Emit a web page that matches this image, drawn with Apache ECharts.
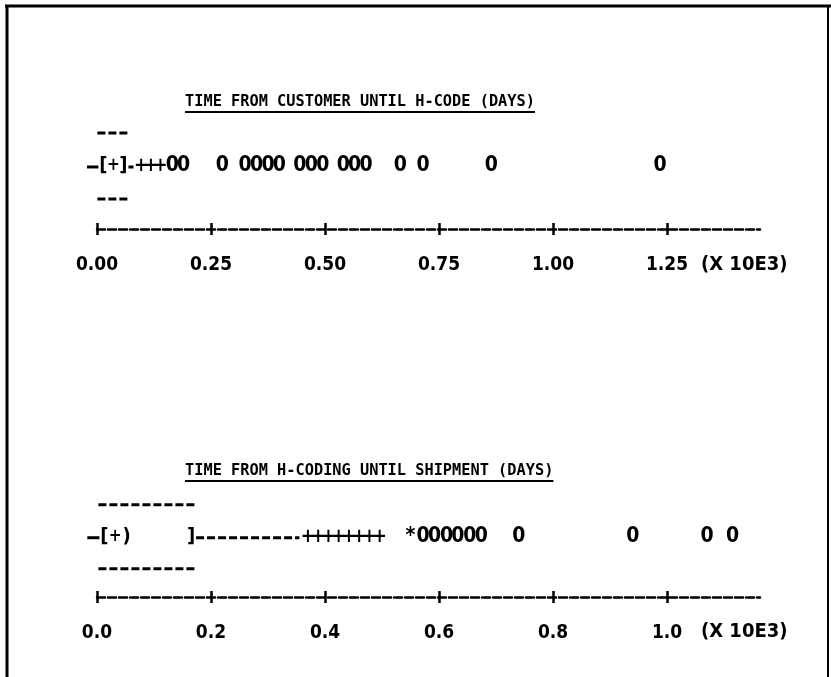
<!DOCTYPE html>
<html><head><meta charset="utf-8">
<script src="https://cdn.jsdelivr.net/npm/echarts@6/dist/echarts.min.js"></script>
<style>html,body{margin:0;padding:0;background:#fff}#c{width:831px;height:677px}</style>
</head><body><div id="c"></div>
<script>
// ---------------- data ----------------
const titles = ['TIME FROM CUSTOMER UNTIL H-CODE (DAYS)', 'TIME FROM H-CODING UNTIL SHIPMENT (DAYS)'];
const unitLabel = '(X 10E3)';

// plot 1 (days)
const topTicks = [0, 250, 500, 750, 1000, 1250];
const topTickLabels = ['0.00', '0.25', '0.50', '0.75', '1.00', '1.25'];
const topAxisMax = 1454;
const topBox = [-22, 14, 36, 58, 80];    // whisker low, Q1, median, Q3, whisker high
const topNotch = [];
const topPlus = [97, 118, 139];
const topStar = [];
const topOutliers = [165, 190, 275, 325, 350, 375, 400, 445, 470, 495, 540, 565, 590, 665, 715, 865, 1235];

// plot 2 (days)
const botTicks = [0, 200, 400, 600, 800, 1000];
const botTickLabels = ['0.0', '0.2', '0.4', '0.6', '0.8', '1.0'];
const botAxisMax = 1163;
const botBox = [-17, 13, 32, 165, 355];
const botNotch = [52];
const botPlus = [370, 388, 406, 424, 442, 460, 478, 496];
const botStar = [550];
const botOutliers = [572, 592, 613, 633, 654, 674, 740, 940, 1070, 1115];

// ---------------- styling ----------------
const NARROW = "'Liberation Sans Narrow','DejaVu Sans Condensed','Arial Narrow','Liberation Sans',sans-serif";
const MONO = "'DejaVu Sans Mono','Liberation Mono',monospace";
const GLYPH_FONT = 'bold 21px ' + NARROW;
const BOX_FONT = 'bold 20px ' + NARROW;
const PLUS_FONT = 'bold 19px ' + NARROW;
const ROW_LEVEL = [0.46, 0.44];
const BOX_OFF = [33, 32];

const chart = echarts.init(document.getElementById('c'), null, {renderer: 'canvas'});

function mainX(g, ticks, labels, max) {
  return {
    gridIndex: g, type: 'value', min: 0, max: max, interval: ticks[1] - ticks[0], position: 'bottom',
    axisLine: {show: true, onZero: false, lineStyle: {color: '#000', width: 2.5, type: [8, 3]}},
    axisTick: {show: true, length: 6, customValues: ticks, lineStyle: {color: '#000', width: 2.5}},
    axisLabel: {show: true, customValues: ticks, margin: 27, color: '#000', fontFamily: NARROW, fontWeight: 'bold', fontSize: 19,
      formatter: v => { const i = ticks.indexOf(v); return i >= 0 ? labels[i] : ''; }},
    splitLine: {show: false}
  };
}
function innerX(g, ticks, max) {
  return {
    gridIndex: g, type: 'value', min: 0, max: max, interval: ticks[1] - ticks[0], position: 'bottom',
    axisLine: {show: false}, axisLabel: {show: false}, splitLine: {show: false},
    axisTick: {show: true, inside: true, length: 6, customValues: ticks, lineStyle: {color: '#000', width: 2.5}}
  };
}

function glyphSeries(g, values, ch, font) {
  const lvl = ROW_LEVEL[g];
  return {
    type: 'custom', xAxisIndex: g * 2, yAxisIndex: g, clip: false, silent: true,
    data: values.map(v => [v, lvl]),
    encode: {x: 0, y: 1},
    renderItem: (params, api) => {
      const p = api.coord([api.value(0), api.value(1)]);
      return {type: 'text', x: p[0], y: p[1],
        style: {text: ch, font: font || GLYPH_FONT, fill: '#000', align: 'center', verticalAlign: 'middle'}};
    }
  };
}

function boxSeries(g, box) {
  const lvl = ROW_LEVEL[g], off = BOX_OFF[g];
  return {
    type: 'custom', xAxisIndex: g * 2, yAxisIndex: g, clip: false, silent: true,
    data: [[box[0], box[1], box[2], box[3], box[4], lvl]],
    encode: {x: [0, 1, 2, 3, 4], y: 5},
    renderItem: (params, api) => {
      const y = api.coord([0, api.value(5)])[1];
      const X = i => api.coord([api.value(i), api.value(5)])[0];
      const dash = {stroke: '#000', lineWidth: 3, lineDash: [8, 3]};
      const solid = {stroke: '#000', lineWidth: 3};
      const line = (x1, y1, x2, y2, st) => ({type: 'line', shape: {x1, y1, x2, y2}, style: st || dash});
      const ch = (t, x, f) => ({type: 'text', x, y, style: {text: t, font: f || BOX_FONT, fill: '#000', align: 'center', verticalAlign: 'middle'}});
      return {type: 'group', children: [
        line(X(1) - 6, y - off, X(3) + 6, y - off),
        line(X(1) - 6, y + off, X(3) + 6, y + off),
        line(X(0), y + 1, X(1) - 5, y + 1, solid),
        line(X(3) + 5, y + 1, X(4), y + 1, (X(4) - X(3)) > 30 ? dash : solid),
        ch('[', X(1)), ch('+', X(2), 'bold 17px ' + NARROW), ch(']', X(3))
      ]};
    }
  };
}

// measure title widths for underline
const ctx = document.createElement('canvas').getContext('2d');
const TITLE_FONT = 'bold 15.3px ' + MONO;
ctx.font = TITLE_FONT;
const titleX = 185, titleY = [104, 473];
const graphics = [];
titles.forEach((t, i) => {
  const w = ctx.measureText(t).width;
  graphics.push({type: 'text', left: titleX, top: titleY[i] - 9, style: {text: t, font: TITLE_FONT, fill: '#000'}});
  graphics.push({type: 'line', shape: {x1: titleX, y1: titleY[i] + 8, x2: titleX + w, y2: titleY[i] + 8}, style: {stroke: '#000', lineWidth: 2}});
});
[255, 622].forEach(y => graphics.push({type: 'text', left: 701, top: y, style: {text: unitLabel, font: 'bold 20px ' + NARROW, fill: '#000'}}));
// frame
graphics.push({type: 'line', shape: {x1: 5, y1: 6, x2: 831, y2: 6}, style: {stroke: '#000', lineWidth: 3}});
graphics.push({type: 'line', shape: {x1: 7, y1: 5, x2: 7, y2: 677}, style: {stroke: '#000', lineWidth: 3}});
graphics.push({type: 'line', shape: {x1: 828, y1: 5, x2: 828, y2: 677}, style: {stroke: '#000', lineWidth: 2}});

const option = {
  backgroundColor: '#fff',
  animation: false,
  grid: [
    {left: 97, width: 663, top: 92, height: 137},
    {left: 97, width: 663, top: 460, height: 137}
  ],
  xAxis: [
    mainX(0, topTicks, topTickLabels, topAxisMax), innerX(0, topTicks, topAxisMax),
    mainX(1, botTicks, botTickLabels, botAxisMax), innerX(1, botTicks, botAxisMax)
  ],
  yAxis: [
    {gridIndex: 0, type: 'value', min: 0, max: 1, show: false},
    {gridIndex: 1, type: 'value', min: 0, max: 1, show: false}
  ],
  series: [
    boxSeries(0, topBox),
    glyphSeries(0, topPlus, '+', PLUS_FONT),
    glyphSeries(0, topOutliers, '0'),
    glyphSeries(0, topStar, '*'),
    glyphSeries(0, topNotch, ')', BOX_FONT),
    boxSeries(1, botBox),
    glyphSeries(1, botPlus, '+', PLUS_FONT),
    glyphSeries(1, botOutliers, '0'),
    glyphSeries(1, botStar, '*'),
    glyphSeries(1, botNotch, ')', BOX_FONT)
  ],
  graphic: graphics
};
chart.setOption(option);
</script></body></html>
